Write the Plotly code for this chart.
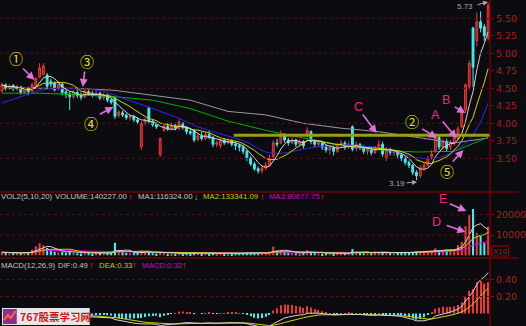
import plotly.graph_objects as go
import pandas as pd

W, H = 526, 326
PLOT_W = 497  # width of the plotting area (right axis at x=497)

# ---------------- data ----------------
opens = [4.46,4.55,4.50,4.54,4.49,4.52,4.44,4.48,4.46,4.53,
         4.66,4.70,4.69,4.60,4.58,4.50,4.56,4.45,4.42,4.38,
         4.44,4.40,4.38,4.45,4.42,4.40,4.43,4.36,4.40,4.33,
         4.36,4.11,4.15,4.12,4.08,4.10,4.05,3.66,4.00,4.22,
         4.03,3.98,3.55,3.90,3.96,3.92,3.97,3.92,4.00,3.94,
         3.88,3.90,3.77,3.82,3.78,3.84,3.80,3.70,3.68,3.76,
         3.72,3.75,3.70,3.68,3.66,3.60,3.50,3.42,3.35,3.32,
         3.36,3.40,3.52,3.72,3.72,3.82,3.76,3.72,3.76,3.70,
         3.74,3.84,3.88,3.74,3.70,3.72,3.66,3.62,3.65,3.60,
         3.68,3.72,3.66,3.95,3.64,3.70,3.65,3.60,3.62,3.58,
         3.64,3.70,3.50,3.62,3.58,3.60,3.55,3.50,3.44,3.40,
         3.30,3.25,3.36,3.40,3.52,3.60,3.80,3.66,3.74,3.66,
         3.72,3.78,3.95,4.19,4.52,5.36,5.18,5.45,5.38,5.22]
closes = [4.55,4.50,4.53,4.49,4.52,4.44,4.48,4.45,4.55,4.64,
          4.79,4.82,4.53,4.56,4.48,4.56,4.44,4.42,4.38,4.44,
          4.40,4.37,4.45,4.42,4.40,4.43,4.36,4.40,4.33,4.30,
          4.10,4.16,4.12,4.08,4.10,4.05,4.02,4.00,4.05,4.03,
          3.98,3.95,3.78,3.96,3.92,3.97,3.93,4.02,3.94,3.88,
          3.86,3.76,3.82,3.78,3.84,3.80,3.70,3.72,3.76,3.72,
          3.75,3.70,3.68,3.66,3.60,3.50,3.42,3.35,3.32,3.36,
          3.40,3.50,3.72,3.70,3.84,3.76,3.72,3.76,3.70,3.74,
          3.68,3.90,3.74,3.70,3.72,3.66,3.62,3.65,3.60,3.68,
          3.72,3.66,3.70,3.63,3.70,3.65,3.60,3.63,3.58,3.64,
          3.70,3.56,3.62,3.58,3.60,3.55,3.50,3.44,3.40,3.30,
          3.25,3.36,3.40,3.50,3.56,3.80,3.66,3.74,3.64,3.72,
          3.80,3.92,4.15,4.55,4.86,4.80,5.45,5.36,5.25,5.68]
highs = [4.58,4.57,4.56,4.56,4.55,4.53,4.51,4.52,4.58,4.66,
         4.86,4.86,4.72,4.64,4.60,4.60,4.58,4.50,4.45,4.47,
         4.48,4.44,4.50,4.48,4.46,4.47,4.45,4.43,4.42,4.36,
         4.38,4.19,4.18,4.14,4.13,4.12,4.08,4.03,4.08,4.24,
         4.06,4.01,3.80,3.99,4.00,4.01,4.00,4.06,4.02,3.96,
         3.92,3.92,3.86,3.88,3.88,3.90,3.82,3.75,3.78,3.79,
         3.78,3.77,3.73,3.71,3.69,3.62,3.53,3.45,3.38,3.40,
         3.45,3.55,3.76,3.78,3.90,3.86,3.79,3.80,3.78,3.77,
         3.76,3.94,3.90,3.77,3.76,3.74,3.70,3.68,3.68,3.72,
         3.76,3.75,3.74,3.97,3.74,3.72,3.68,3.66,3.66,3.68,
         3.76,3.74,3.66,3.65,3.63,3.62,3.58,3.52,3.47,3.42,
         3.33,3.40,3.45,3.53,3.62,3.86,3.84,3.78,3.78,3.76,
         3.84,3.96,4.19,4.57,4.90,5.38,5.58,5.60,5.42,5.73]
lows = [4.44,4.47,4.48,4.46,4.47,4.41,4.42,4.40,4.44,4.51,
        4.64,4.68,4.50,4.52,4.45,4.47,4.40,4.36,4.19,4.35,
        4.36,4.33,4.36,4.39,4.37,4.38,4.33,4.33,4.30,4.27,
        4.06,4.08,4.09,4.05,4.04,4.02,3.99,3.62,3.97,4.00,
        3.95,3.92,3.52,3.88,3.89,3.90,3.90,3.90,3.91,3.84,
        3.83,3.73,3.74,3.75,3.76,3.77,3.66,3.66,3.64,3.69,
        3.70,3.67,3.62,3.60,3.56,3.46,3.39,3.32,3.28,3.28,
        3.33,3.38,3.50,3.66,3.70,3.72,3.68,3.70,3.66,3.67,
        3.64,3.80,3.70,3.66,3.66,3.62,3.58,3.55,3.54,3.58,
        3.65,3.62,3.63,3.60,3.60,3.62,3.56,3.55,3.54,3.56,
        3.62,3.52,3.46,3.54,3.53,3.50,3.46,3.40,3.36,3.26,
        3.19,3.22,3.32,3.38,3.48,3.58,3.62,3.62,3.60,3.62,
        3.68,3.76,3.93,4.15,4.48,4.52,5.10,5.30,5.18,5.18]
volumes = [1500,1200,1000,1400,1100,1300,1000,1600,
           2800,4500,6000,5000,3600,2200,1800,1500,
           1700,1300,2400,1200,1000,900,1500,1100,
           900,1100,1300,1000,1200,1400,6200,2300,
           1600,1200,1000,1100,1300,2400,1300,2000,
           1100,900,1800,1100,800,900,800,1300,
           900,1000,800,1400,1000,900,1200,900,
           1300,800,1000,900,800,900,1000,1100,
           1200,1500,1300,1200,1000,1100,1300,1800,
           4300,2200,2500,1600,1300,1200,1000,900,
           1100,2600,1800,1200,1000,900,1100,1000,
           900,1000,1200,1000,1100,3100,1800,1200,
           1000,1300,1100,1800,1500,1600,1400,1100,
           1000,1200,1400,1300,1500,1700,2000,1800,
           1600,2000,2200,3500,2000,2500,2800,3000,
           3000,5000,6700,14400,19800,22800,11000,10000,6000,14022]

# longer moving averages at sample bars
long_ma_idx = [0, 10, 20, 30, 40, 50, 60, 70, 80, 90, 100, 110, 120, 129]
green_ma = [4.43, 4.43, 4.41, 4.38, 4.33, 4.21, 4.03, 3.90, 3.79, 3.69, 3.62, 3.59, 3.60, 3.80]
grey_ma = [4.50, 4.50, 4.50, 4.47, 4.40, 4.33, 4.17, 4.12, 4.00, 3.93, 3.88, 3.80, 3.72, 3.79]
blue_ma_idx = [0, 5, 10, 15, 20, 26, 31, 39, 47, 52, 65, 70, 74, 83, 91, 100, 109, 114, 119, 124, 127, 129]
blue_ma = [4.29, 4.38, 4.47, 4.50, 4.49, 4.47, 4.38, 4.23, 4.07, 3.95, 3.73, 3.59, 3.57, 3.66, 3.69, 3.65,
           3.52, 3.49, 3.57, 3.76, 4.02, 4.29]

resistance_level = 3.83
resistance_from = 61.5

price_ticks = [3.50, 3.75, 4.00, 4.25, 4.50, 4.75, 5.00, 5.25, 5.50]
price_grid = [3.5, 4.0, 4.5, 5.0, 5.5]
vol_ticks = [10000, 20000]
macd_ticks = [0.20, 0.40]

# ---------------- derived indicators ----------------
n = len(closes)
idx = list(range(n))
cs = pd.Series(closes)
ma5 = cs.rolling(5, min_periods=1).mean()
ma10 = cs.rolling(10, min_periods=1).mean()
vs = pd.Series(volumes)
vma5 = vs.rolling(5, min_periods=1).mean()
vma10 = vs.rolling(10, min_periods=1).mean()
vma20 = vs.rolling(20, min_periods=1).mean()
ema12 = cs.ewm(span=12, adjust=False).mean()
ema26 = cs.ewm(span=26, adjust=False).mean()
dif = ema12 - ema26
dea = dif.ewm(span=9, adjust=False).mean()
hist = 2 * (dif - dea)

# ---------------- styling ----------------
BG = "#0c0b0f"
RED = "#ee3636"
RED_FILL = "#901c1c"
CYAN = "#3cf0f0"
AXR = "#a00000"
TICKC = "#a82020"
WHITE = "#d4d4d4"
YEL = "#d4d400"
BLUE = "#2a2aff"
GREEN = "#00b000"
GREY = "#9a9a9a"
MAG = "#e000e0"
PINK = "#e070e0"
LETTER = "#ff1a8c"
CIRC = "#e6e600"

up = [c >= o for o, c in zip(opens, closes)]
vol_colors = [RED if u else CYAN for u in up]
hist_colors = [RED if h >= 0 else CYAN for h in hist]

fig = go.Figure()
fig.add_trace(go.Candlestick(
    x=idx, open=opens, high=highs, low=lows, close=closes,
    increasing=dict(line=dict(color=RED, width=1), fillcolor=RED_FILL),
    decreasing=dict(line=dict(color=CYAN, width=1), fillcolor=CYAN),
    whiskerwidth=0, hoverinfo="skip", xaxis="x", yaxis="y"))
fig.add_trace(go.Scatter(x=long_ma_idx, y=grey_ma, mode="lines", line=dict(color=GREY, width=1), xaxis="x", yaxis="y"))
fig.add_trace(go.Scatter(x=long_ma_idx, y=green_ma, mode="lines", line=dict(color=GREEN, width=1), xaxis="x", yaxis="y"))
fig.add_trace(go.Scatter(x=blue_ma_idx, y=blue_ma, mode="lines", line=dict(color=BLUE, width=1, shape="spline", smoothing=0.6),
                         xaxis="x", yaxis="y"))
fig.add_trace(go.Scatter(x=idx, y=ma10, mode="lines", line=dict(color=YEL, width=1), xaxis="x", yaxis="y"))
fig.add_trace(go.Scatter(x=idx, y=ma5, mode="lines", line=dict(color=WHITE, width=1), xaxis="x", yaxis="y"))

fig.add_trace(go.Bar(x=idx, y=volumes, width=0.55, marker=dict(color=vol_colors, line=dict(width=0)), xaxis="x2", yaxis="y2"))
fig.add_trace(go.Scatter(x=idx, y=vma20, mode="lines", line=dict(color=MAG, width=1), xaxis="x2", yaxis="y2"))
fig.add_trace(go.Scatter(x=idx, y=vma10, mode="lines", line=dict(color=YEL, width=1), xaxis="x2", yaxis="y2"))
fig.add_trace(go.Scatter(x=idx, y=vma5, mode="lines", line=dict(color=WHITE, width=1), xaxis="x2", yaxis="y2"))

fig.add_trace(go.Bar(x=idx, y=hist, width=0.28, marker=dict(color=hist_colors, line=dict(width=0)), xaxis="x3", yaxis="y3"))
fig.add_trace(go.Scatter(x=idx, y=dea, mode="lines", line=dict(color=YEL, width=1), xaxis="x3", yaxis="y3"))
fig.add_trace(go.Scatter(x=idx, y=dif, mode="lines", line=dict(color=WHITE, width=1), xaxis="x3", yaxis="y3"))

xcommon = dict(domain=[0, 1], range=[-0.5, n - 0.5], visible=False, fixedrange=True)
ytick = dict(side="right", ticks="outside", ticklen=3, tickcolor=AXR, showgrid=False, zeroline=False,
             showline=False, tickfont=dict(family="DejaVu Sans", size=9.5, color=TICKC), fixedrange=True)

fig.update_layout(
    width=W, height=H, margin=dict(l=0, r=W - PLOT_W, t=0, b=0),
    paper_bgcolor=BG, plot_bgcolor=BG, showlegend=False, hovermode=False,
    barmode="overlay", font=dict(family="Liberation Sans", color=WHITE),
    xaxis=dict(**xcommon, anchor="y", rangeslider=dict(visible=False)),
    xaxis2=dict(**xcommon, anchor="y2", matches="x"),
    xaxis3=dict(**xcommon, anchor="y3", matches="x"),
    yaxis=dict(**ytick, domain=[1 - 192 / H, 1], range=[4.00 - (192 - 123.3) / 70, 4.00 + 123.3 / 70],
               anchor="x", tickvals=price_ticks, ticktext=[f"{v:.2f}" for v in price_ticks]),
    yaxis2=dict(**ytick, domain=[1 - 258 / H, 1 - 193 / H], range=[-1330, 30690],
                anchor="x2", tickvals=vol_ticks, ticktext=[str(v) for v in vol_ticks]),
    yaxis3=dict(**ytick, domain=[0, 1 - 259 / H], range=[-0.147, 0.641],
                anchor="x3", tickvals=macd_ticks, ticktext=[f"{v:.2f}" for v in macd_ticks]),
)


def P(px, py):
    # pixel position -> paper coordinates (paper x spans the plotting area 0..PLOT_W)
    return px / PLOT_W, 1 - py / H


shapes = []
for v in price_grid:
    shapes.append(dict(type="line", xref="paper", yref="y", x0=0, x1=1, y0=v, y1=v,
                       line=dict(color="#5e1010", width=1, dash="dot")))
for v in vol_ticks:
    shapes.append(dict(type="line", xref="paper", yref="y2", x0=0, x1=1, y0=v, y1=v,
                       line=dict(color="#5e1010", width=1, dash="dot")))
for v in macd_ticks:
    shapes.append(dict(type="line", xref="paper", yref="y3", x0=0, x1=1, y0=v, y1=v,
                       line=dict(color="#5e1010", width=1, dash="dot")))
shapes.append(dict(type="line", xref="x", yref="y", x0=resistance_from, x1=n - 0.5,
                   y0=resistance_level, y1=resistance_level, line=dict(color="#9c9c16", width=3)))
shapes.append(dict(type="line", xref="paper", yref="paper", x0=1, x1=1, y0=0, y1=1, line=dict(color=AXR, width=1)))
for py in (192, 258):
    shapes.append(dict(type="line", xref="paper", yref="paper", x0=0, x1=W / PLOT_W, y0=1 - py / H, y1=1 - py / H,
                       line=dict(color=AXR, width=1)))
x0, y0 = P(499, 256)
x1, y1 = P(516, 246)
shapes.append(dict(type="rect", xref="paper", yref="paper", x0=x0, x1=x1, y0=y0, y1=y1, line=dict(color=AXR, width=1)))
# watermark
x0, y0 = P(2, 325)
x1, y1 = P(91, 308)
shapes.append(dict(type="rect", xref="paper", yref="paper", x0=x0, x1=x1, y0=y0, y1=y1,
                   fillcolor="#f2f2f2", line=dict(width=0), opacity=0.95))
x0, y0 = P(3, 324)
x1, y1 = P(17, 309)
shapes.append(dict(type="rect", xref="paper", yref="paper", x0=x0, x1=x1, y0=y0, y1=y1,
                   fillcolor="#8b2f8f", line=dict(width=0)))
pts = [P(4, 320), P(8, 315), P(11, 318), P(16, 311)]
path = "M " + " L ".join(f"{x:.5f},{y:.5f}" for x, y in pts)
shapes.append(dict(type="path", xref="paper", yref="paper", path=path, line=dict(color="#ff6a2a", width=2)))
fig.update_layout(shapes=shapes)

ann = []


def text(s, px, py, color, size=7.8, family="Liberation Sans", anchor="left", bold=False):
    x, y = P(px, py)
    ann.append(dict(text=f"<b>{s}</b>" if bold else s, x=x, y=y, xref="paper", yref="paper", showarrow=False,
                    xanchor=anchor, yanchor="middle", borderpad=0,
                    font=dict(color=color, size=size, family=family)))


def arrow(tx, ty, hx, hy, color=PINK, width=1.6):
    x, y = P(hx, hy)
    ann.append(dict(text="", x=x, y=y, xref="paper", yref="paper", ax=tx - hx, ay=ty - hy,
                    showarrow=True, arrowhead=2, arrowsize=1, arrowwidth=width, arrowcolor=color, standoff=0))


text("VOL2(5,10,20)", 0, 197, "#c4c4c4")
text("VOLUME:140227.00", 55, 197, "#c4c4c4")
text("↑", 129, 197, "#ff2424", size=9)
text("MA1:116324.00", 139, 197, "#c4c4c4")
text("↓", 196, 197, "#20d8d8", size=9)
text("MA2:133341.09", 205, 197, "#c8c800")
text("↑", 263, 197, "#ff2424", size=9)
text("MA3:80677.75", 272, 197, "#d000d0")
text("↑", 324, 197, "#ff2424", size=9)

text("MACD(12,26,9)", 0, 265, "#c4c4c4")
text("DIF:0.49", 58, 265, "#c4c4c4")
text("↑", 89, 265, "#ff2424", size=9)
text("DEA:0.33", 99, 265, "#c8c800")
text("↑", 133, 265, "#ff2424", size=9)
text("MACD:0.32", 143, 265, "#d000d0")
text("↑", 184, 265, "#ff2424", size=9)

text("X10", 507.5, 251.5, TICKC, size=8, anchor="center")

text("5.73", 472, 7, "#a8a8a8", size=8, anchor="center")
arrow(483, 5, 495, 2, color="#a8a8a8", width=1)
text("3.19", 403, 183, "#a8a8a8", size=8, anchor="center")
arrow(411, 183, 423, 182, color="#a8a8a8", width=1)

for s, px, py in [("①", 16, 58), ("③", 88, 61), ("④", 92, 123), ("②", 418, 121), ("⑤", 453, 171)]:
    text(s, px, py, CIRC, size=14, family="Noto Sans CJK SC", anchor="center")
for s, px, py in [("A", 442, 115), ("B", 452, 100), ("C", 364, 107), ("D", 443, 222), ("E", 449, 199)]:
    text(s, px, py, LETTER, size=12.5, anchor="center")

for t in [(22, 67, 35, 80), (86, 70, 84, 87), (100, 115, 115, 107), (367, 113, 382, 133),
          (427, 128, 443, 138), (448, 120, 463, 138), (460, 106, 472, 113), (458, 163, 470, 150),
          (455, 203, 473, 211), (452, 225, 472, 232)]:
    arrow(*t)

text("767股票学习网", 19, 316.5, "#cc1a1a", size=10.5, family="Noto Sans CJK SC", bold=True)

fig.update_layout(annotations=ann)
fig.write_html("out.html")
